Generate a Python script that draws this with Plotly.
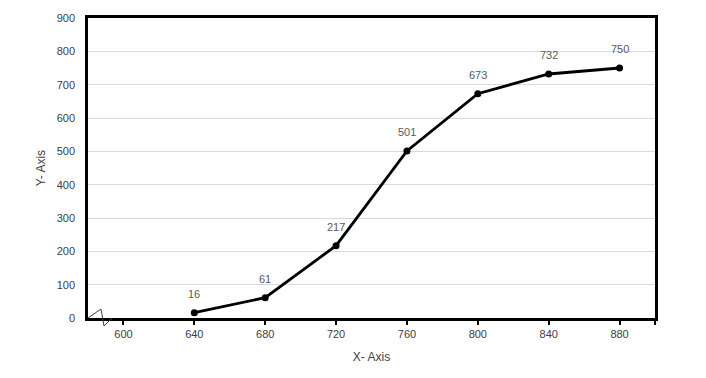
import plotly.graph_objects as go

x_vals = [640, 680, 720, 760, 800, 840, 880]
y_vals = [16, 61, 217, 501, 673, 732, 750]
x_ticks = [600, 640, 680, 720, 760, 800, 840, 880]
y_ticks = [0, 100, 200, 300, 400, 500, 600, 700, 800, 900]

FONT = "Liberation Sans, Arial, sans-serif"
TXT = "#404040"

fig = go.Figure()
fig.add_trace(go.Scatter(
    x=x_vals, y=y_vals, mode="lines+markers",
    line=dict(color="black", width=2.8),
    marker=dict(color="black", size=7),
    cliponaxis=False, showlegend=False, hoverinfo="x+y",
))

for xv, yv in zip(x_vals, y_vals):
    fig.add_annotation(x=xv, y=yv, text=str(yv), showarrow=False,
                       yshift=19, font=dict(family=FONT, size=11, color="#595959"))

fig.update_layout(
    template="none",
    width=698, height=370,
    margin=dict(l=80, r=51, t=10, b=60),
    paper_bgcolor="white", plot_bgcolor="white",
    font=dict(family=FONT, size=11, color=TXT),
    xaxis=dict(
        range=[580, 900], tickvals=x_ticks + [900], ticktext=[str(t) for t in x_ticks] + [""],
        tickfont=dict(color=TXT, size=11),
        showgrid=False, zeroline=False, automargin=False,
        showline=True, linecolor="black", linewidth=2.5, mirror=True,
        ticks="outside", ticklen=4, tickwidth=2, tickcolor="black",
        title=dict(text="X- Axis", font=dict(size=12, color=TXT), standoff=14),
    ),
    yaxis=dict(
        range=[0, 900], tickvals=y_ticks,
        tickfont=dict(color=TXT, size=11),
        showgrid=True, gridcolor="#d9d9d9", gridwidth=1, zeroline=False, automargin=False,
        showline=True, linecolor="black", linewidth=2.5, mirror=True,
        ticks="", ticklabelstandoff=8,
        title=dict(text="Y- Axis", font=dict(size=12, color=TXT), standoff=9),
    ),
)

# axis break symbol
fig.add_shape(
    type="path", xref="paper", yref="paper",
    xsizemode="pixel", ysizemode="pixel", xanchor=0, yanchor=0,
    path="M 0,0 L 13,9 L 16,-8 L 24,0",
    line=dict(color="#404040", width=1), fillcolor="rgba(0,0,0,0)",
)

fig.write_html("out.html")
